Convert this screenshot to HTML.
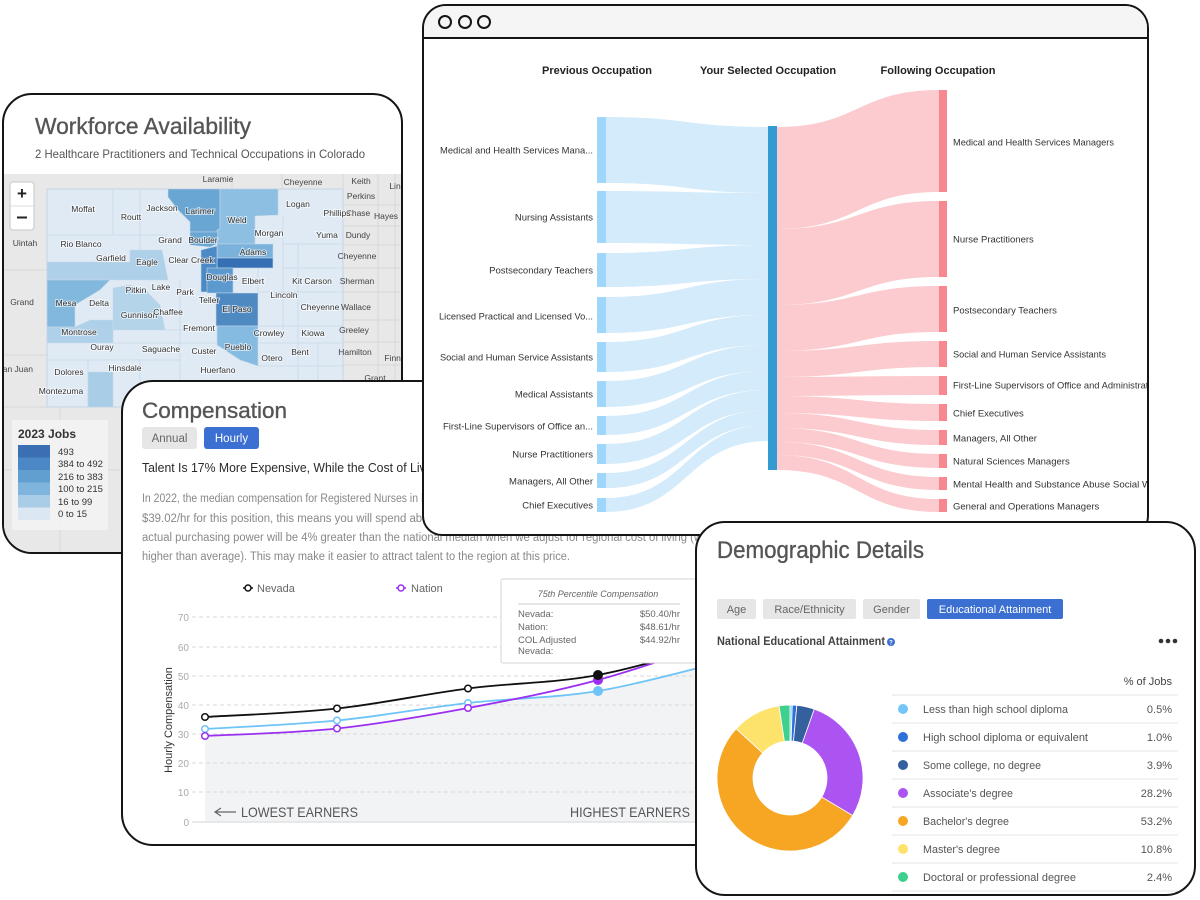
<!DOCTYPE html>
<html><head><meta charset="utf-8">
<style>
html,body{margin:0;padding:0;background:#fff;}
body{width:1200px;height:900px;position:relative;overflow:hidden;font-family:"Liberation Sans",Arial,sans-serif;}
.card{position:absolute;border:2px solid #151515;background:#fff;overflow:hidden;box-sizing:border-box;}
.card svg{position:absolute;width:1200px;height:900px;}
text{font-family:"Liberation Sans",Arial,sans-serif;}
.ml{font-size:8.5px;fill:#333;stroke:#fff;stroke-width:2px;stroke-opacity:0.6;paint-order:stroke;text-anchor:middle;}
.nl{font-size:8.5px;fill:#444;text-anchor:middle;}
.sl{font-size:9.5px;fill:#333;text-anchor:end;}
.sr{font-size:9.5px;fill:#333;}
.dl{font-size:11px;fill:#555;}
.dv{font-size:11px;fill:#555;text-anchor:end;}
.tt{stroke:#555;stroke-width:0.35px;}
</style></head><body>

<!-- MAP CARD -->
<div class="card" style="left:2px;top:93px;width:401px;height:461px;border-radius:30px;">
<svg style="left:-4px;top:-95px" viewBox="0 0 1200 900">
<text class="tt" x="35" y="134" font-size="23" fill="#555" textLength="216" lengthAdjust="spacingAndGlyphs">Workforce Availability</text>
<text x="35" y="158" font-size="12" fill="#555" textLength="330" lengthAdjust="spacingAndGlyphs">2 Healthcare Practitioners and Technical Occupations in Colorado</text>
<rect x="0" y="174" width="410" height="400" fill="#e8e8e8"/>
<g stroke="#d2d2d2" stroke-width="0.8" fill="none">
<line x1="282" y1="174" x2="282" y2="189"/>
<line x1="232" y1="174" x2="232" y2="189"/>
<line x1="343" y1="174" x2="343" y2="189"/>
<line x1="378" y1="174" x2="378" y2="420"/>
<line x1="395" y1="174" x2="395" y2="420"/>
<line x1="343" y1="205" x2="400" y2="205"/>
<line x1="343" y1="226" x2="400" y2="226"/>
<line x1="343" y1="245" x2="400" y2="245"/>
<line x1="343" y1="268" x2="400" y2="268"/>
<line x1="343" y1="292" x2="400" y2="292"/>
<line x1="343" y1="320" x2="400" y2="320"/>
<line x1="343" y1="342" x2="400" y2="342"/>
<line x1="343" y1="365" x2="400" y2="365"/>
<line x1="343" y1="392" x2="400" y2="392"/>
<line x1="0" y1="270" x2="47" y2="270"/>
<line x1="0" y1="355" x2="47" y2="355"/>
<line x1="0" y1="407" x2="400" y2="407"/>
<line x1="60" y1="407" x2="60" y2="560"/>
<line x1="0" y1="470" x2="120" y2="470"/>
</g>
<rect x="47" y="189" width="296" height="218" fill="#dfeaf5" stroke="#c3d3e5" stroke-width="1"/>
<g stroke="#c9d8e8" stroke-width="0.8" fill="none">
<line x1="113" y1="189" x2="113" y2="235"/>
<line x1="47" y1="235" x2="168" y2="235"/>
<line x1="140" y1="189" x2="140" y2="262"/>
<line x1="278" y1="189" x2="278" y2="215"/>
<line x1="283" y1="215" x2="283" y2="330"/>
<line x1="283" y1="244" x2="343" y2="244"/>
<line x1="283" y1="268" x2="343" y2="268"/>
<line x1="258" y1="292" x2="343" y2="292"/>
<line x1="298" y1="244" x2="298" y2="407"/>
<line x1="258" y1="326" x2="343" y2="326"/>
<line x1="258" y1="343" x2="343" y2="343"/>
<line x1="318" y1="343" x2="318" y2="407"/>
<line x1="165" y1="330" x2="217" y2="330"/>
<line x1="113" y1="343" x2="217" y2="343"/>
<line x1="47" y1="360" x2="180" y2="360"/>
<line x1="180" y1="280" x2="180" y2="407"/>
<line x1="233" y1="268" x2="233" y2="293"/>
<line x1="258" y1="268" x2="258" y2="292"/>
<line x1="140" y1="360" x2="140" y2="407"/>
<line x1="88" y1="360" x2="88" y2="407"/>
<line x1="258" y1="366" x2="343" y2="366"/>
</g>
<g stroke="#c9d8e8" stroke-width="0.6">
<polygon points="168,189 220,189 220,229 218,232 190,232 190,222 178,210 168,197" fill="#6aa6d3"/>
<polygon points="220,189 278,189 278,215 255,216 255,244 217,244 217,230 220,229" fill="#8cbfe2"/>
<polygon points="190,232 218,232 217,244 210,247 190,245" fill="#6aa6d3"/>
<polygon points="217,244 273,244 273,258 217,258" fill="#7ab2db"/>
<rect x="217" y="258" width="56" height="10" fill="#3470b3"/>
<polygon points="201,250 217,246 217,268 212,292 201,292" fill="#4c8ac6"/>
<polygon points="207,268 233,268 233,293 207,293" fill="#5c99ce"/>
<polygon points="216,293 258,293 258,326 216,326" fill="#4f89c2"/>
<polygon points="217,326 258,326 258,366 240,360 217,345" fill="#86bbe1"/>
<polygon points="47,262 130,262 130,250 162,250 168,280 110,280 47,280" fill="#aed0e8"/>
<polygon points="47,280 110,280 100,290 75,305 75,327 47,327" fill="#83b8de"/>
<polygon points="47,327 75,327 90,320 113,320 113,343 47,343" fill="#aed0e8"/>
<polygon points="113,288 130,285 145,290 160,305 165,330 113,330" fill="#b4d4ea"/>
<polygon points="88,372 113,372 113,407 88,407" fill="#a9cde6"/>
</g>
<g class="nl">
<text x="218" y="182">Laramie</text><text x="303" y="185">Cheyenne</text><text x="361" y="184">Keith</text>
<text x="361" y="199">Perkins</text><text x="395" y="189">Lin</text><text x="358" y="216">Chase</text>
<text x="386" y="219">Hayes</text><text x="358" y="238">Dundy</text><text x="357" y="259">Cheyenne</text>
<text x="357" y="284">Sherman</text><text x="356" y="310">Wallace</text><text x="354" y="333">Greeley</text>
<text x="355" y="355">Hamilton</text><text x="395" y="361">Finne</text><text x="375" y="381">Grant</text>
<text x="25" y="246">Uintah</text><text x="22" y="305">Grand</text><text x="15" y="372">San Juan</text>
</g>
<g class="ml">
<text x="83" y="212">Moffat</text><text x="131" y="220">Routt</text><text x="162" y="211">Jackson</text>
<text x="200" y="214">Larimer</text><text x="237" y="223">Weld</text><text x="298" y="207">Logan</text>
<text x="337" y="216">Phillips</text><text x="269" y="236">Morgan</text><text x="327" y="238">Yuma</text>
<text x="81" y="247">Rio Blanco</text><text x="170" y="243">Grand</text><text x="203" y="243">Boulder</text>
<text x="111" y="261">Garfield</text><text x="147" y="265">Eagle</text><text x="191" y="263">Clear Creek</text>
<text x="253" y="255">Adams</text><text x="66" y="306">Mesa</text><text x="99" y="306">Delta</text>
<text x="136" y="293">Pitkin</text><text x="161" y="290">Lake</text><text x="185" y="295">Park</text>
<text x="222" y="280">Douglas</text><text x="253" y="284">Elbert</text><text x="312" y="284">Kit Carson</text>
<text x="284" y="298">Lincoln</text><text x="209" y="303">Teller</text><text x="237" y="312">El Paso</text>
<text x="320" y="310">Cheyenne</text><text x="139" y="318">Gunnison</text><text x="168" y="315">Chaffee</text>
<text x="79" y="335">Montrose</text><text x="199" y="331">Fremont</text><text x="269" y="336">Crowley</text>
<text x="313" y="336">Kiowa</text><text x="102" y="350">Ouray</text><text x="161" y="352">Saguache</text>
<text x="204" y="354">Custer</text><text x="238" y="350">Pueblo</text><text x="272" y="361">Otero</text>
<text x="300" y="355">Bent</text><text x="69" y="375">Dolores</text><text x="125" y="371">Hinsdale</text>
<text x="218" y="373">Huerfano</text><text x="61" y="394">Montezuma</text>
</g>
<rect x="10" y="182" width="24" height="48" rx="3" fill="#fff" stroke="#c8c8c8"/>
<line x1="10" y1="206" x2="34" y2="206" stroke="#ddd"/>
<text x="22" y="199" font-size="17" font-weight="bold" fill="#222" text-anchor="middle">+</text>
<rect x="17" y="216.5" width="10" height="2" fill="#222"/>
<rect x="12" y="420" width="96" height="110" fill="#f2f2f2" fill-opacity="0.92"/>
<text x="18" y="438" font-size="12" font-weight="bold" fill="#333">2023 Jobs</text>
<rect x="18" y="445" width="32" height="12.5" fill="#3a70b3"/>
<rect x="18" y="457.5" width="32" height="12.5" fill="#4b88c5"/>
<rect x="18" y="470" width="32" height="12.5" fill="#609fd0"/>
<rect x="18" y="482.5" width="32" height="12.5" fill="#7fb5dd"/>
<rect x="18" y="495" width="32" height="12.5" fill="#a9cde6"/>
<rect x="18" y="507.5" width="32" height="12.5" fill="#dbe8f4"/>
<g font-size="9.5" fill="#333">
<text x="58" y="455">493</text><text x="58" y="467">384 to 492</text><text x="58" y="480">216 to 383</text>
<text x="58" y="492">100 to 215</text><text x="58" y="505">16 to 99</text><text x="58" y="517">0 to 15</text>
</g>
</svg></div>

<!-- COMPENSATION CARD -->
<div class="card" style="left:121px;top:380px;width:610px;height:466px;border-radius:32px;">
<svg style="left:-123px;top:-382px" viewBox="0 0 1200 900">
<text class="tt" x="142" y="418" font-size="22" fill="#555" textLength="145" lengthAdjust="spacingAndGlyphs">Compensation</text>
<rect x="142" y="427" width="55" height="22" rx="3" fill="#e6e6e6"/>
<text x="169.5" y="442" font-size="11.5" fill="#666" text-anchor="middle">Annual</text>
<rect x="204" y="427" width="55" height="22" rx="3" fill="#3b6fd1"/>
<text x="231.5" y="442" font-size="11.5" fill="#fff" text-anchor="middle">Hourly</text>
<text x="142" y="472" font-size="13" fill="#2a2a2a" textLength="300" lengthAdjust="spacingAndGlyphs">Talent Is 17% More Expensive, While the Cost of Living</text>
<g font-size="11.5" fill="#888">
<text x="142" y="502" textLength="315" lengthAdjust="spacingAndGlyphs">In 2022, the median compensation for Registered Nurses in Nevada</text>
<text x="142" y="522" textLength="296" lengthAdjust="spacingAndGlyphs">$39.02/hr for this position, this means you will spend about</text>
<text x="142" y="541" textLength="560" lengthAdjust="spacingAndGlyphs">actual purchasing power will be 4% greater than the national median when we adjust for regional cost of living (w</text>
<text x="142" y="560" textLength="428" lengthAdjust="spacingAndGlyphs">higher than average). This may make it easier to attract talent to the region at this price.</text>
</g>
<!-- legend -->
<line x1="243" y1="588" x2="253" y2="588" stroke="#111" stroke-width="1.5"/>
<circle cx="248" cy="588" r="3" fill="#fff" stroke="#111" stroke-width="1.5"/>
<text x="257" y="592" font-size="11" fill="#666">Nevada</text>
<line x1="396" y1="588" x2="406" y2="588" stroke="#9a2ff0" stroke-width="1.5"/>
<circle cx="401" cy="588" r="3" fill="#fff" stroke="#9a2ff0" stroke-width="1.5"/>
<text x="411" y="592" font-size="11" fill="#666">Nation</text>
<!-- area -->
<path d="M205,822 L205,736 C227,734.75 293.2,733.2 337,728.5 C380.8,723.8 424.5,716.1 468,708 L520,700 C550,698 575,693 598,691 C641.5,683.8 707.2,665.2 729,660 L729,822 Z" fill="#f2f3f5"/>
<!-- grid -->
<g stroke="#d8d8d8" stroke-width="1" stroke-dasharray="4,3">
<line x1="192" y1="617" x2="760" y2="617"/><line x1="192" y1="647" x2="760" y2="647"/>
<line x1="192" y1="676" x2="760" y2="676"/><line x1="192" y1="705" x2="760" y2="705"/>
<line x1="192" y1="734" x2="760" y2="734"/><line x1="192" y1="763" x2="760" y2="763"/>
<line x1="192" y1="792" x2="760" y2="792"/>
</g>
<line x1="192" y1="822" x2="760" y2="822" stroke="#e2e2e2" stroke-width="1.5"/>
<g font-size="10" fill="#aaa" text-anchor="end">
<text x="189" y="621">70</text><text x="189" y="651">60</text><text x="189" y="680">50</text>
<text x="189" y="709">40</text><text x="189" y="738">30</text><text x="189" y="767">20</text>
<text x="189" y="796">10</text><text x="189" y="826">0</text>
</g>
<text transform="translate(172,720) rotate(-90)" font-size="11" fill="#333" text-anchor="middle">Hourly Compensation</text>
<!-- lines -->
<path d="M205,729 C227,727.6 293.2,724.8 337,720.5 C380.8,716.2 424.5,707.9 468,703 C511.5,698.1 554.5,698.2 598,691 C641.5,683.8 707.2,665.2 729,660" fill="none" stroke="#6ec3f7" stroke-width="1.8"/>
<path d="M205,736 C227,734.75 293.2,733.2 337,728.5 C380.8,723.8 424.5,716.1 468,708 C511.5,699.9 554.5,691.7 598,680 C641.5,668.3 707.2,645 729,638" fill="none" stroke="#9a2ff0" stroke-width="1.8"/>
<path d="M205,717 C227,715.6 293.2,713.3 337,708.5 C380.8,703.75 424.5,694.1 468,688.5 C511.5,682.9 554.5,683.1 598,675 C641.5,666.9 707.2,645.8 729,640" fill="none" stroke="#111" stroke-width="1.8"/>
<g fill="#fff" stroke-width="1.5">
<circle cx="205" cy="729" r="3.3" stroke="#6ec3f7"/><circle cx="337" cy="720.5" r="3.3" stroke="#6ec3f7"/><circle cx="468" cy="703" r="3.3" stroke="#6ec3f7"/>
<circle cx="205" cy="736" r="3.3" stroke="#9a2ff0"/><circle cx="337" cy="728.5" r="3.3" stroke="#9a2ff0"/><circle cx="468" cy="708" r="3.3" stroke="#9a2ff0"/>
<circle cx="205" cy="717" r="3.3" stroke="#111"/><circle cx="337" cy="708.5" r="3.3" stroke="#111"/><circle cx="468" cy="688.5" r="3.3" stroke="#111"/>
</g>
<circle cx="598" cy="691" r="5" fill="#6ec3f7"/>
<circle cx="598" cy="680" r="5" fill="#9a2ff0"/>
<circle cx="598" cy="675" r="5" fill="#111"/>
<!-- earners -->
<path d="M236,812 L216,812 M221,808 L215,812 L221,816" fill="none" stroke="#666" stroke-width="1.2"/>
<text x="241" y="817" font-size="14" fill="#555" textLength="117" lengthAdjust="spacingAndGlyphs">LOWEST EARNERS</text>
<text x="570" y="817" font-size="14" fill="#555" textLength="120" lengthAdjust="spacingAndGlyphs">HIGHEST EARNERS</text>
<!-- tooltip -->
<rect x="501" y="579" width="215" height="84" rx="2" fill="#fff" stroke="#d6d6d6"/>
<text x="598" y="597" font-size="9" font-style="italic" fill="#666" text-anchor="middle">75th Percentile Compensation</text>
<line x1="518" y1="604" x2="680" y2="604" stroke="#ccc"/>
<g font-size="9.5" fill="#666">
<text x="518" y="617">Nevada:</text><text x="680" y="617" text-anchor="end">$50.40/hr</text>
<text x="518" y="630">Nation:</text><text x="680" y="630" text-anchor="end">$48.61/hr</text>
<text x="518" y="643">COL Adjusted</text><text x="680" y="643" text-anchor="end">$44.92/hr</text>
<text x="518" y="654">Nevada:</text>
</g>
</svg></div>

<!-- SANKEY CARD -->
<div class="card" style="left:422px;top:4px;width:727px;height:532px;border-radius:24px 24px 20px 20px;">
<svg style="left:-424px;top:-6px" viewBox="0 0 1200 900">
<rect x="420" y="0" width="740" height="38" fill="#f5f5f5"/>
<line x1="420" y1="38" x2="1160" y2="38" stroke="#151515" stroke-width="2"/>
<g fill="none" stroke="#151515" stroke-width="2">
<circle cx="445" cy="22" r="6"/><circle cx="465" cy="22" r="6"/><circle cx="484" cy="22" r="6"/>
</g>
<g font-size="11" font-weight="bold" fill="#222" text-anchor="middle">
<text x="597" y="74">Previous Occupation</text>
<text x="768" y="74">Your Selected Occupation</text>
<text x="938" y="74">Following Occupation</text>
</g>
<g fill="#d3ebfb">
<path d="M606,117 C687,117 687,127 768,127 L768,193 C687,193 687,183 606,183 Z"/>
<path d="M606,191 C687,191 687,193 768,193 L768,245 C687,245 687,243 606,243 Z"/>
<path d="M606,253 C687,253 687,245 768,245 L768,279 C687,279 687,287 606,287 Z"/>
<path d="M606,297 C687,297 687,279 768,279 L768,315 C687,315 687,333 606,333 Z"/>
<path d="M606,342 C687,342 687,315 768,315 L768,345 C687,345 687,372 606,372 Z"/>
<path d="M606,381 C687,381 687,345 768,345 L768,371 C687,371 687,407 606,407 Z"/>
<path d="M606,416 C687,416 687,371 768,371 L768,390 C687,390 687,435 606,435 Z"/>
<path d="M606,444 C687,444 687,390 768,390 L768,410 C687,410 687,464 606,464 Z"/>
<path d="M606,473 C687,473 687,410 768,410 L768,425 C687,425 687,488 606,488 Z"/>
<path d="M606,498 C687,498 687,425 768,425 L768,441 C687,441 687,512 606,512 Z"/>
</g>
<g fill="#fccbcf">
<path d="M777,127 C858,127 858,90 939,90 L939,192 C858,192 858,229 777,229 Z"/>
<path d="M777,229 C858,229 858,201 939,201 L939,277 C858,277 858,305 777,305 Z"/>
<path d="M777,305 C858,305 858,286 939,286 L939,332 C858,332 858,351 777,351 Z"/>
<path d="M777,351 C858,351 858,341 939,341 L939,367 C858,367 858,377 777,377 Z"/>
<path d="M777,377 C858,377 858,376 939,376 L939,395 C858,395 858,396 777,396 Z"/>
<path d="M777,396 C858,396 858,404 939,404 L939,421 C858,421 858,413 777,413 Z"/>
<path d="M777,413 C858,413 858,430 939,430 L939,445 C858,445 858,428 777,428 Z"/>
<path d="M777,428 C858,428 858,454 939,454 L939,468 C858,468 858,442 777,442 Z"/>
<path d="M777,442 C858,442 858,477 939,477 L939,490 C858,490 858,455 777,455 Z"/>
<path d="M777,455 C858,455 858,499 939,499 L939,512 C858,512 858,470 777,470 Z"/>
</g>
<g fill="#9fd6fb">
<rect x="597" y="117" width="9" height="66"/><rect x="597" y="191" width="9" height="52"/>
<rect x="597" y="253" width="9" height="34"/><rect x="597" y="297" width="9" height="36"/>
<rect x="597" y="342" width="9" height="30"/><rect x="597" y="381" width="9" height="26"/>
<rect x="597" y="416" width="9" height="19"/><rect x="597" y="444" width="9" height="20"/>
<rect x="597" y="473" width="9" height="15"/><rect x="597" y="498" width="9" height="14"/>
</g>
<rect x="768" y="126" width="9" height="344" fill="#339ad2"/>
<g fill="#f8888f">
<rect x="939" y="90" width="8" height="102"/><rect x="939" y="201" width="8" height="76"/>
<rect x="939" y="286" width="8" height="46"/><rect x="939" y="341" width="8" height="26"/>
<rect x="939" y="376" width="8" height="19"/><rect x="939" y="404" width="8" height="17"/>
<rect x="939" y="430" width="8" height="15"/><rect x="939" y="454" width="8" height="14"/>
<rect x="939" y="477" width="8" height="13"/><rect x="939" y="499" width="8" height="13"/>
</g>
<g class="sl">
<text x="593" y="153.5" textLength="153" lengthAdjust="spacingAndGlyphs">Medical and Health Services Mana...</text>
<text x="593" y="220.5">Nursing Assistants</text>
<text x="593" y="273.5">Postsecondary Teachers</text>
<text x="593" y="319.5" textLength="154" lengthAdjust="spacingAndGlyphs">Licensed Practical and Licensed Vo...</text>
<text x="593" y="360.5" textLength="153" lengthAdjust="spacingAndGlyphs">Social and Human Service Assistants</text>
<text x="593" y="397.5">Medical Assistants</text>
<text x="593" y="429.5" textLength="150" lengthAdjust="spacingAndGlyphs">First-Line Supervisors of Office an...</text>
<text x="593" y="457.5">Nurse Practitioners</text>
<text x="593" y="484.5">Managers, All Other</text>
<text x="593" y="508.5">Chief Executives</text>
</g>
<g class="sr">
<text x="953" y="145.5" textLength="161" lengthAdjust="spacingAndGlyphs">Medical and Health Services Managers</text>
<text x="953" y="242.5">Nurse Practitioners</text>
<text x="953" y="313.5">Postsecondary Teachers</text>
<text x="953" y="357.5" textLength="153" lengthAdjust="spacingAndGlyphs">Social and Human Service Assistants</text>
<text x="953" y="388.5" textLength="280" lengthAdjust="spacingAndGlyphs">First-Line Supervisors of Office and Administrative Support Workers</text>
<text x="953" y="416.5">Chief Executives</text>
<text x="953" y="441.5">Managers, All Other</text>
<text x="953" y="464.5">Natural Sciences Managers</text>
<text x="953" y="487.5" textLength="225" lengthAdjust="spacingAndGlyphs">Mental Health and Substance Abuse Social Workers</text>
<text x="953" y="509.5">General and Operations Managers</text>
</g>
</svg></div>

<!-- DEMOGRAPHIC CARD -->
<div class="card" style="left:695px;top:521px;width:501px;height:375px;border-radius:30px;">
<svg style="left:-697px;top:-523px" viewBox="0 0 1200 900">
<text class="tt" x="717" y="558" font-size="24" fill="#555" textLength="207" lengthAdjust="spacingAndGlyphs">Demographic Details</text>
<rect x="717" y="599" width="39" height="20" rx="2" fill="#e6e6e6"/>
<text x="736.5" y="613" font-size="11" fill="#666" text-anchor="middle">Age</text>
<rect x="763" y="599" width="93" height="20" rx="2" fill="#e6e6e6"/>
<text x="809.5" y="613" font-size="11" fill="#666" text-anchor="middle">Race/Ethnicity</text>
<rect x="863" y="599" width="57" height="20" rx="2" fill="#e6e6e6"/>
<text x="891.5" y="613" font-size="11" fill="#666" text-anchor="middle">Gender</text>
<rect x="927" y="599" width="136" height="20" rx="2" fill="#3b6fd1"/>
<text x="995" y="613" font-size="11" fill="#fff" text-anchor="middle">Educational Attainment</text>
<text x="717" y="645" font-size="12" font-weight="bold" fill="#444" textLength="168" lengthAdjust="spacingAndGlyphs">National Educational Attainment</text>
<circle cx="891" cy="642" r="4" fill="#3b6fd1"/>
<text x="891" y="644.5" font-size="6" font-weight="bold" fill="#fff" text-anchor="middle">?</text>
<circle cx="1161" cy="641" r="2.3" fill="#333"/><circle cx="1168" cy="641" r="2.3" fill="#333"/><circle cx="1175" cy="641" r="2.3" fill="#333"/>
<text x="1172" y="685" font-size="11" fill="#444" text-anchor="end">% of Jobs</text>
<g stroke="#e6e6e6" stroke-width="1">
<line x1="892" y1="695" x2="1178" y2="695"/><line x1="892" y1="723" x2="1178" y2="723"/>
<line x1="892" y1="751" x2="1178" y2="751"/><line x1="892" y1="779" x2="1178" y2="779"/>
<line x1="892" y1="807" x2="1178" y2="807"/><line x1="892" y1="835" x2="1178" y2="835"/>
<line x1="892" y1="863" x2="1178" y2="863"/><line x1="892" y1="891" x2="1178" y2="891"/>
</g>
<circle cx="903" cy="709" r="5" fill="#74c5f8"/>
<circle cx="903" cy="737" r="5" fill="#2e6fd8"/>
<circle cx="903" cy="765" r="5" fill="#34609e"/>
<circle cx="903" cy="793" r="5" fill="#ac54f2"/>
<circle cx="903" cy="821" r="5" fill="#f6a623"/>
<circle cx="903" cy="849" r="5" fill="#fde36b"/>
<circle cx="903" cy="877" r="5" fill="#3fd08f"/>
<text class="dl" x="923" y="713" textLength="145" lengthAdjust="spacingAndGlyphs">Less than high school diploma</text>
<text class="dl" x="923" y="741" textLength="165" lengthAdjust="spacingAndGlyphs">High school diploma or equivalent</text>
<text class="dl" x="923" y="769" textLength="118" lengthAdjust="spacingAndGlyphs">Some college, no degree</text>
<text class="dl" x="923" y="797" textLength="90" lengthAdjust="spacingAndGlyphs">Associate's degree</text>
<text class="dl" x="923" y="825" textLength="86" lengthAdjust="spacingAndGlyphs">Bachelor's degree</text>
<text class="dl" x="923" y="853" textLength="77" lengthAdjust="spacingAndGlyphs">Master's degree</text>
<text class="dl" x="923" y="881" textLength="153" lengthAdjust="spacingAndGlyphs">Doctoral or professional degree</text>
<text class="dv" x="1172" y="713">0.5%</text>
<text class="dv" x="1172" y="741">1.0%</text>
<text class="dv" x="1172" y="769">3.9%</text>
<text class="dv" x="1172" y="797">28.2%</text>
<text class="dv" x="1172" y="825">53.2%</text>
<text class="dv" x="1172" y="853">10.8%</text>
<text class="dv" x="1172" y="881">2.4%</text>
<g stroke="#fff" stroke-width="0.8">
<path d="M790,705 A73,73 0 0 1 792.29,705.04 L791.16,741.02 A37,37 0 0 0 790,741 Z" fill="#74c5f8"/>
<path d="M792.29,705.04 A73,73 0 0 1 796.87,705.32 L793.48,741.16 A37,37 0 0 0 791.16,741.02 Z" fill="#2e6fd8"/>
<path d="M796.87,705.32 A73,73 0 0 1 814.30,709.16 L802.31,743.11 A37,37 0 0 0 793.48,741.16 Z" fill="#34609e"/>
<path d="M814.30,709.16 A73,73 0 0 1 852.60,815.56 L821.73,797.04 A37,37 0 0 0 802.31,743.11 Z" fill="#ac54f2"/>
<path d="M852.60,815.56 A73,73 0 1 1 736.15,728.71 L762.71,753.02 A37,37 0 1 0 821.73,797.04 Z" fill="#f6a623"/>
<path d="M736.15,728.71 A73,73 0 0 1 779.03,705.83 L784.44,741.42 A37,37 0 0 0 762.71,753.02 Z" fill="#fde36b"/>
<path d="M779.03,705.83 A73,73 0 0 1 790,705 L790,741 A37,37 0 0 0 784.44,741.42 Z" fill="#3fd08f"/>
</g>
</svg></div>

</body></html>
